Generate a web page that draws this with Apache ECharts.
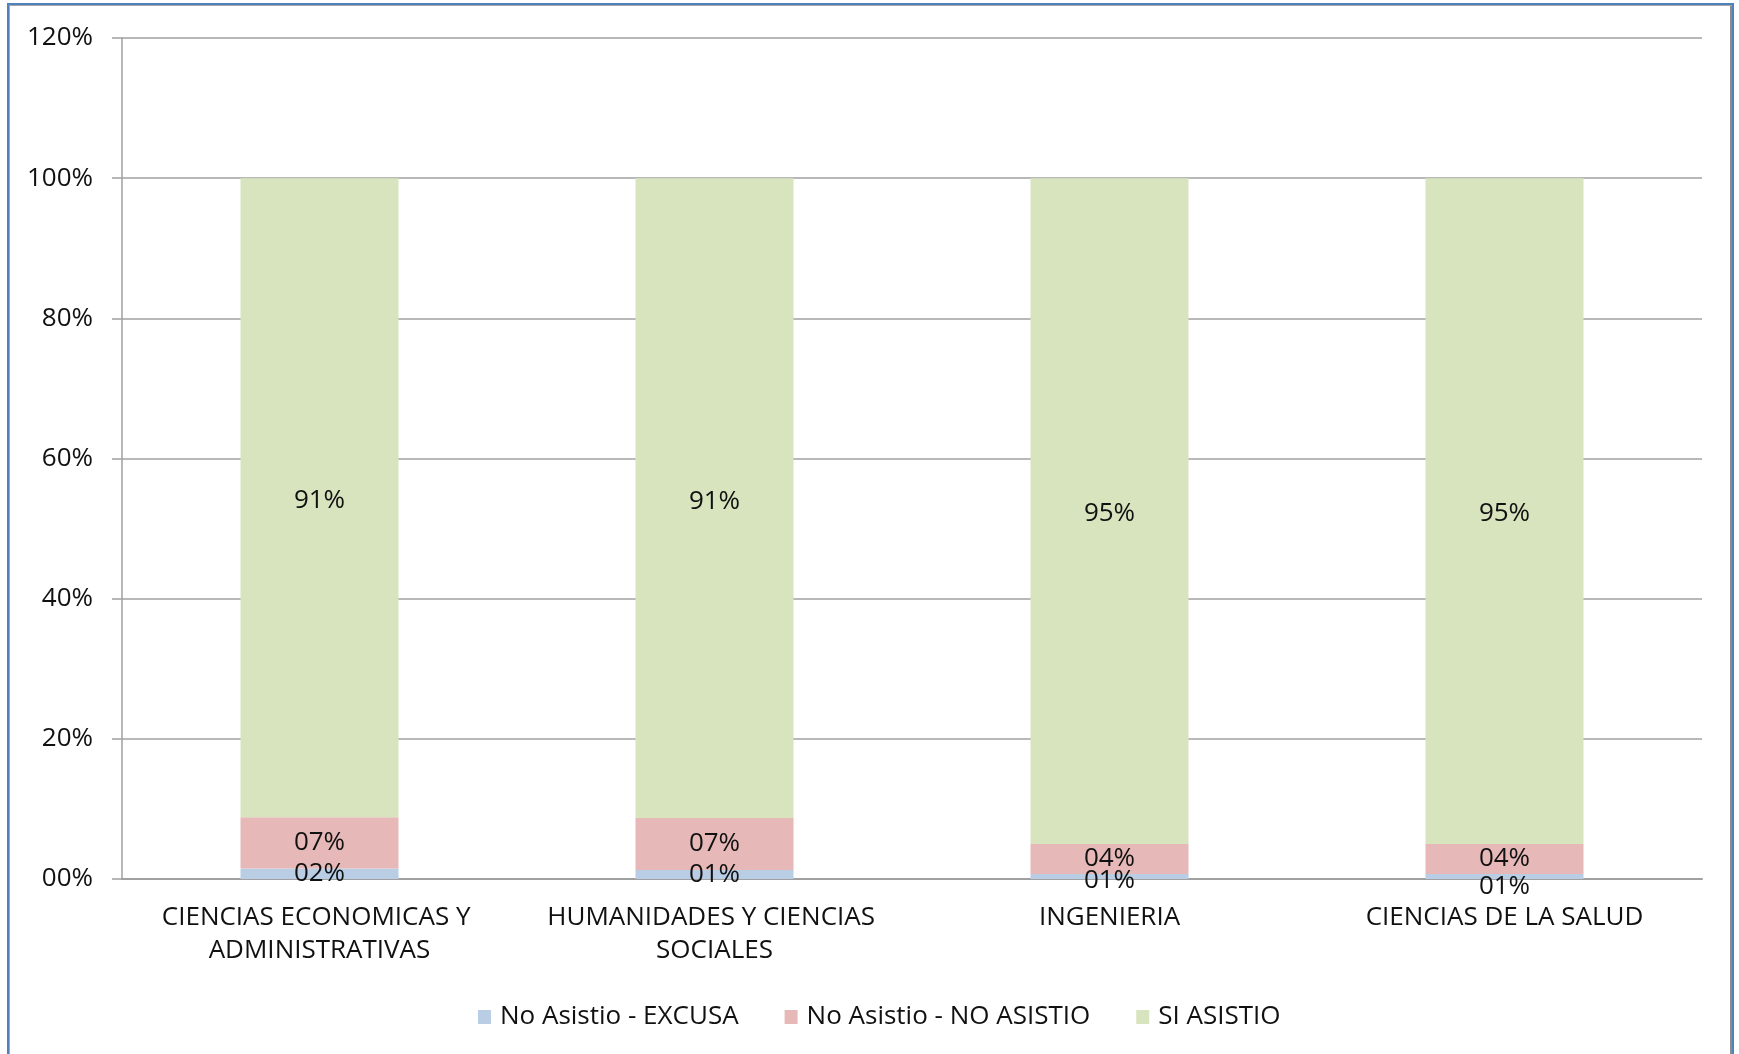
<!DOCTYPE html>
<html>
<head>
<meta charset="utf-8">
<script src="https://cdn.jsdelivr.net/npm/echarts@6/dist/echarts.min.js"></script>
<style>
  html, body { margin: 0; padding: 0; background: #fff; }
  #frame { position: absolute; left: 7px; top: 3px; width: 1727px; height: 1100px;
           border-left: 2px solid #4f81bd; border-top: 2px solid #4f81bd; border-right: 2px solid #4f81bd;
           box-shadow: inset 1px 1px 0 #a6a6a6, inset -2px 0 0 #8c8c8c; box-sizing: border-box; }
  #chart { position: absolute; left: 0; top: 0; width: 1739px; height: 1054px; }
</style>
</head>
<body>
<div id="frame"></div>
<div id="chart"></div>
<script>
const categories = ["CIENCIAS ECONOMICAS Y ADMINISTRATIVAS", "HUMANIDADES Y CIENCIAS SOCIALES", "INGENIERIA", "CIENCIAS DE LA SALUD"];
const seriesNames = ["No Asistio - EXCUSA", "No Asistio - NO ASISTIO", "SI ASISTIO"];
const excusa = [1.5, 1.3, 0.7, 0.7];
const noAsistio = [7.3, 7.4, 4.3, 4.3];
const siAsistio = [91.2, 91.3, 95.0, 95.0];
const yTicks = [0, 20, 40, 60, 80, 100, 120];

const FONT = "'Open Sans', 'Liberation Sans', sans-serif";
const TXT = '#111111';
const pad2 = v => { const r = Math.round(v); return (r < 10 ? '0' + r : '' + r); };

const chart = echarts.init(document.getElementById('chart'), null, { renderer: 'canvas' });
const labelCfg = {
  show: true, position: 'inside', color: TXT, fontFamily: FONT, fontSize: 26,
  formatter: p => pad2(p.value) + '%'
};
const colors = ['#b9cde5', '#e6b9b8', '#d7e4bd'];
const values = [excusa, noAsistio, siAsistio];
const series = values.map((arr, si) => ({
  name: seriesNames[si], type: 'bar', stack: 'total', barWidth: '40%',
  itemStyle: { color: colors[si] },
  label: si === 2 ? Object.assign({}, labelCfg, { offset: [0, 3] }) : labelCfg,
  data: arr.map((v, i) => {
    if (si === 0 && i === 3) return { value: v, label: { offset: [0, 10] } };
    if (si === 0 && i === 2) return { value: v, label: { offset: [0, 4] } };
    return v;
  })
}));

chart.setOption({
  backgroundColor: 'transparent',
  animation: false,
  textStyle: { fontFamily: FONT },
  grid: { left: 122, right: 37, top: 38, bottom: 175, containLabel: false },
  legend: {
    data: seriesNames, left: 473, top: 999, icon: 'rect', itemWidth: 13, itemHeight: 14, itemGap: 46,
    textStyle: { color: TXT, fontFamily: FONT, fontSize: 26, padding: [0, 0, 0, 4] }
  },
  xAxis: {
    type: 'category', data: categories,
    axisLine: { lineStyle: { color: '#a0a0a0', width: 2 } },
    axisTick: { show: false },
    axisLabel: { interval: 0, color: TXT, fontFamily: FONT, fontSize: 26, lineHeight: 33, margin: 22,
                 width: 345, overflow: 'break' }
  },
  yAxis: {
    type: 'value', min: yTicks[0], max: yTicks[yTicks.length - 1], interval: 20,
    axisLine: { show: true, lineStyle: { color: '#a0a0a0', width: 1.5 } },
    axisTick: { show: true, length: 10, lineStyle: { color: '#a0a0a0', width: 1.5 } },
    splitLine: { lineStyle: { color: '#a0a0a0', width: 1.5 } },
    axisLabel: { color: TXT, fontFamily: FONT, fontSize: 26, margin: 29, formatter: v => pad2(v) + '%' }
  },
  series: series
});
</script>
</body>
</html>
